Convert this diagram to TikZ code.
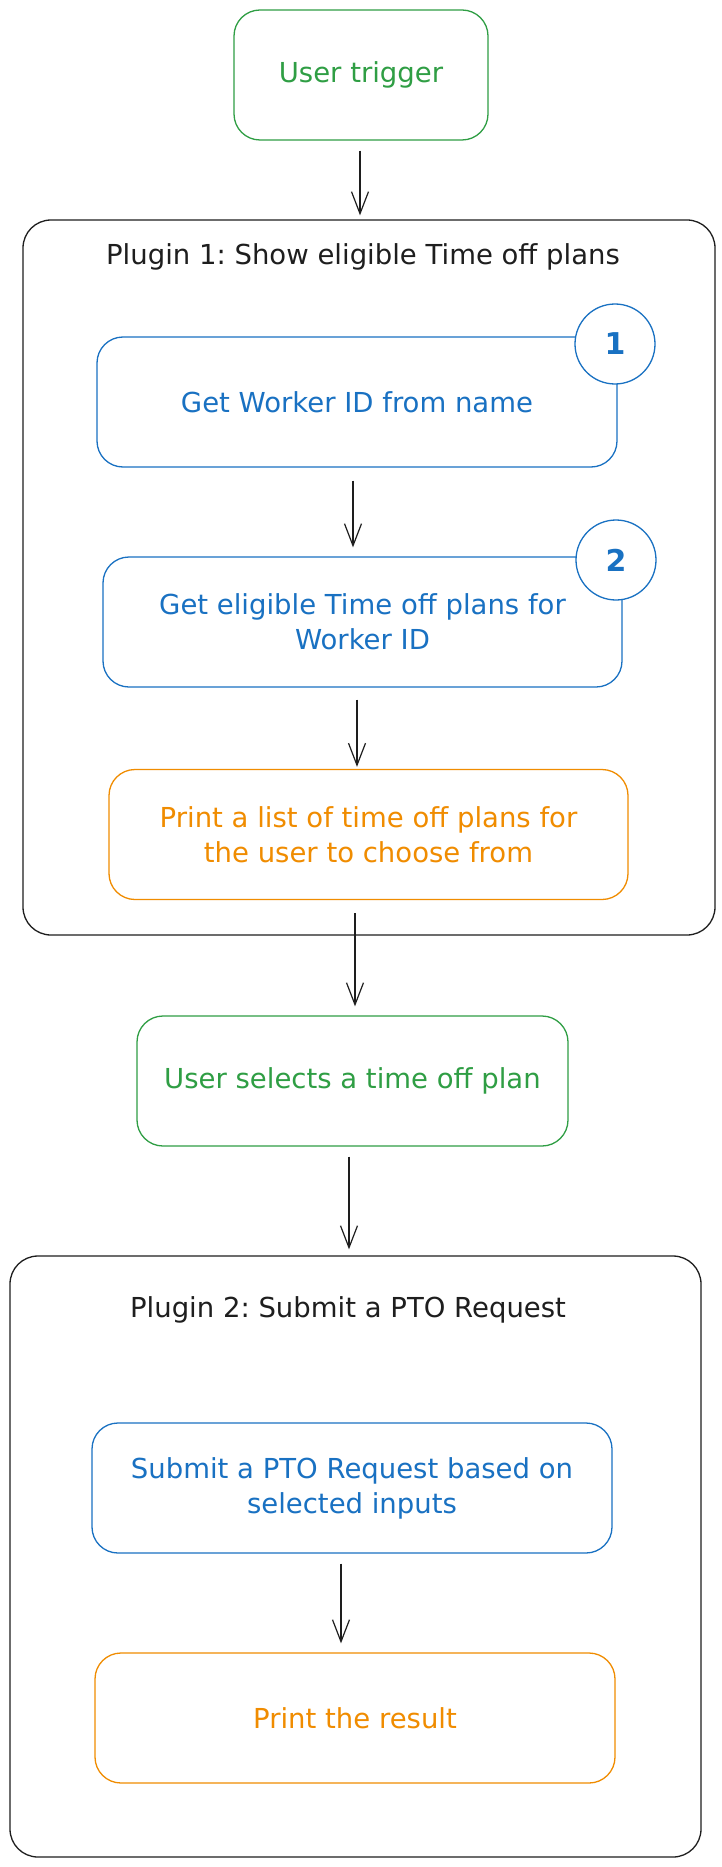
\documentclass[tikz,border=0pt]{standalone}
\usepackage{fontspec}
\setmainfont{DejaVu Sans}
\usetikzlibrary{arrows.meta}
\definecolor{exgreen}{HTML}{2F9E44}
\definecolor{exblue}{HTML}{1971C2}
\definecolor{exorange}{HTML}{F08C00}
\definecolor{exblack}{HTML}{1E1E1E}
\frenchspacing
\begin{document}
\begin{tikzpicture}[x=1pt,y=-1pt,
  txt/.style={font=\fontsize{27.5}{35}\selectfont\frenchspacing, align=center},
  box/.style={draw, line width=1.3pt, rounded corners=26pt, minimum height=130pt, inner sep=0pt, txt},
  greenbox/.style={box, draw=exgreen, text=exgreen},
  bluebox/.style={box, draw=exblue, text=exblue},
  orangebox/.style={box, draw=exorange, text=exorange},
  container/.style={draw=exblack, line width=1.3pt, rounded corners=28pt, inner sep=0pt},
  title/.style={txt, text=exblack},
  badge/.style={circle, draw=exblue, fill=white, line width=1.3pt, minimum size=80pt, inner sep=0pt, text=exblue, font=\fontsize{30}{30}\selectfont\bfseries},
  arr/.style={draw=exblack, line width=1.2pt, -{Straight Barb[length=22pt,width=17pt,line width=1.2pt]}}
]
\useasboundingbox (0,0) rectangle (721,1867);
\fill[white] (0,0) rectangle (721,1867);

% containers
\node[container, minimum width=692pt, minimum height=715pt] (p1) at (369,577.5) {};
\node[title] (p1t) at (363,257) {Plugin 1: Show eligible Time off plans};
\node[container, minimum width=691pt, minimum height=601pt] (p2) at (355.5,1556.5) {};
\node[title] (p2t) at (348,1310) {Plugin 2: Submit a PTO Request};

% boxes
\node[greenbox, minimum width=254pt] (trig) at (361,75) {User trigger};
\node[bluebox, minimum width=520pt] (b1) at (357,402) {Get Worker ID from name};
\node[bluebox, minimum width=519pt] (b2) at (362.5,622) {Get eligible Time off plans for\\Worker ID};
\node[orangebox, minimum width=519pt] (b3) at (368.5,834.5) {Print a list of time off plans for\\the user to choose from};
\node[greenbox, minimum width=431pt] (b4) at (352.5,1081) {User selects a time off plan};
\node[bluebox, minimum width=520pt] (b5) at (352,1488) {Submit a PTO Request based on\\selected inputs};
\node[orangebox, minimum width=520pt] (b6) at (355,1718) {Print the result};

% badges
\node[badge] (c1) at (615,344) {1};
\node[badge] (c2) at (616,560) {2};

% arrows
\draw[arr] ([xshift=-1pt,yshift=-10pt]trig.south) -- ([xshift=-9pt,yshift=4pt]p1.north);
\draw[arr] ([xshift=-4pt,yshift=-13pt]b1.south) -- ([xshift=-9.5pt,yshift=9pt]b2.north);
\draw[arr] ([xshift=-5.5pt,yshift=-12pt]b2.south) -- ([xshift=-11.5pt,yshift=2pt]b3.north);
\draw[arr] ([xshift=-13.5pt,yshift=-13pt]b3.south) -- ([xshift=2.5pt,yshift=9pt]b4.north);
\draw[arr] ([xshift=-3.5pt,yshift=-10pt]b4.south) -- ([xshift=-6.5pt,yshift=6pt]p2.north);
\draw[arr] ([xshift=-11pt,yshift=-10pt]b5.south) -- ([xshift=-14pt,yshift=9pt]b6.north);
\end{tikzpicture}
\end{document}
